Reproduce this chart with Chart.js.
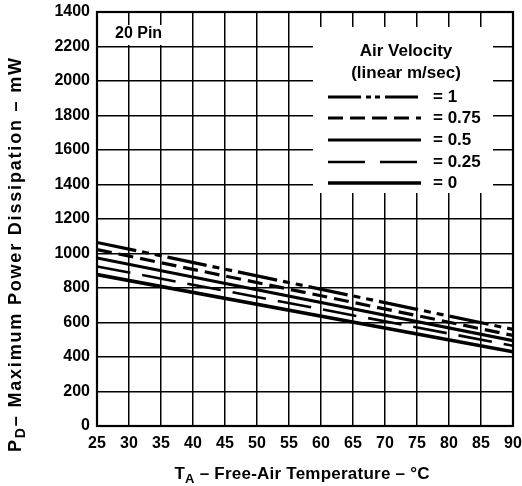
<!DOCTYPE html>
<html><head><meta charset="utf-8">
<script src="https://cdn.jsdelivr.net/npm/chart.js@4/dist/chart.umd.min.js"></script>
<style>html,body{margin:0;padding:0;background:#fff;}#wrap{width:522px;height:486px;}</style>
</head><body><div id="wrap"><canvas id="c" width="522" height="486"></canvas></div>
<script>
// ---- data ----
const temperatures = [25, 90];
const vel1   = [1064, 560];
const vel075 = [1023, 525];
const vel05  = [974, 495];
const vel025 = [925, 465];
const vel0   = [878, 430];
const xTickValues = [25,30,35,40,45,50,55,60,65,70,75,80,85,90];
const yTickLabels = ['0','200','400','600','800','1000','1200','1400','1600','1800','2000','2200','1400'];
const seriesNames = ['= 1','= 0.75','= 0.5','= 0.25','= 0'];
const legendTitle = ['Air Velocity','(linear m/sec)'];
const panelLabel = '20 Pin';
const xTitleParts = [['T',false],['A',true],[' \u2013 Free-Air Temperature \u2013 \u00B0C',false]];
const yTitleParts = [['P',false],['D',true],['\u2013 Maximum Power Dissipation \u2013 mW',false]];

const FONT = '"Liberation Sans", Arial, Helvetica, sans-serif';
const styles = [
  {w:3.2, dash:[40,6,7,6,7,6]},
  {w:3.2, dash:[15,7]},
  {w:3.2, dash:[]},
  {w:2.6, dash:[34,12]},
  {w:3.6, dash:[]}
];
const series = [vel1, vel075, vel05, vel025, vel0];
const datasets = series.map((vals,i)=>({
  label: seriesNames[i],
  data: temperatures.map((t,j)=>({x:t, y:vals[j]})),
  borderColor:'#000', borderWidth:styles[i].w, borderDash:styles[i].dash,
  borderCapStyle:'butt', pointRadius:0, tension:0, fill:false
}));

function drawParts(ctx, parts, cx, cy, targetW, size, subSize){
  const main = 'bold '+size+'px '+FONT, sub='bold '+subSize+'px '+FONT;
  let nat=0, n=0;
  ctx.letterSpacing='0px';
  parts.forEach(([t,s])=>{ctx.font=s?sub:main; nat+=ctx.measureText(t).width; n+=t.length;});
  const sp = Math.max(0,(targetW-nat)/Math.max(1,n-1));
  ctx.letterSpacing = sp+'px';
  let total=0;
  parts.forEach(([t,s])=>{ctx.font=s?sub:main; total+=ctx.measureText(t).width;});
  total -= sp;
  let x = cx-total/2;
  ctx.textAlign='left'; ctx.textBaseline='middle'; ctx.fillStyle='#000';
  parts.forEach(([t,s])=>{ctx.font=s?sub:main; ctx.fillText(t,x,cy+(s?5:0)); x+=ctx.measureText(t).width;});
  ctx.letterSpacing='0px';
}

const decor = {
  id:'decor',
  beforeDatasetsDraw(chart){
    const ctx=chart.ctx; ctx.save();
    ctx.fillStyle='#fff';
    ctx.fillRect(313,27,180,166);   // legend box
    ctx.fillRect(99,25,80,20);      // panel label box
    ctx.restore();
  },
  afterDatasetsDraw(chart){
    const ctx=chart.ctx, a=chart.chartArea; ctx.save();
    ctx.strokeStyle='#000'; ctx.lineWidth=2.2; ctx.setLineDash([]);
    ctx.strokeRect(a.left,a.top,a.right-a.left,a.bottom-a.top);
    ctx.fillStyle='#000'; ctx.font='bold 16px '+FONT; ctx.textBaseline='middle'; ctx.textAlign='left';
    ctx.fillText(panelLabel,115,34);
    ctx.textAlign='center';
    ctx.font='bold 17px '+FONT;
    ctx.fillText(legendTitle[0],406,51);
    ctx.fillText(legendTitle[1],406,73);
    const rows=[97,118,140,162,183];
    rows.forEach((y,i)=>{
      ctx.beginPath(); ctx.lineWidth=styles[i].w; ctx.setLineDash(i===0?[33,5,5,4,5,5]:(i===3?[37,15]:styles[i].dash));
      ctx.lineCap='butt'; ctx.moveTo(328,y); ctx.lineTo(421,y); ctx.stroke();
      ctx.setLineDash([]);
      ctx.textAlign='left'; ctx.font='bold 17px '+FONT;
      ctx.fillText(seriesNames[i],433,y);
    });
    drawParts(ctx,xTitleParts,302,474,255,17,13);
    ctx.translate(16,255); ctx.rotate(-Math.PI/2);
    drawParts(ctx,yTitleParts,0,0,394,18,14);
    ctx.restore();
  }
};

new Chart(document.getElementById('c'),{
  type:'line',
  data:{datasets},
  options:{
    responsive:false, animation:false, devicePixelRatio:1,
    layout:{padding:{left:0,right:9,top:12,bottom:0}},
    plugins:{legend:{display:false},tooltip:{enabled:false}},
    scales:{
      x:{type:'linear',min:25,max:90,
        afterBuildTicks(s){s.ticks=xTickValues.map(v=>({value:v}));},
        afterFit(s){s.height=60;s.paddingLeft=0;s.paddingRight=0;},
        ticks:{autoSkip:false,maxRotation:0,color:'#000',padding:8,font:{family:FONT,size:16,weight:'bold'}},
        grid:{color:'#000',lineWidth:1.5,drawTicks:false},
        border:{color:'#000',width:2}
      },
      y:{type:'linear',min:0,max:2400,
        ticks:{stepSize:200,color:'#000',padding:7,font:{family:FONT,size:16,weight:'bold'},
          callback:(v,i)=>yTickLabels[i]},
        afterFit(s){s.width=97;s.paddingTop=0;s.paddingBottom=0;},
        grid:{color:'#000',lineWidth:1.5,drawTicks:false},
        border:{color:'#000',width:2}
      }
    }
  },
  plugins:[decor]
});
</script></body></html>
